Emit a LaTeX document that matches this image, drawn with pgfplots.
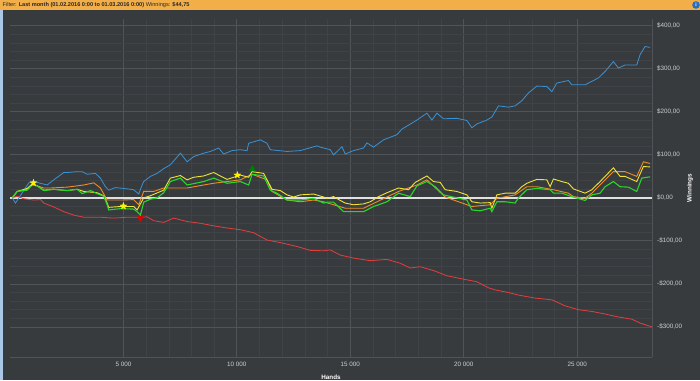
\documentclass[border=0pt]{standalone}
\usepackage{fontspec}
\setmainfont{Liberation Sans}
\usepackage{pgfplots}
\usepackage{pgfplotstable}
\pgfplotsset{compat=1.18}
\definecolor{bg}{RGB}{56,59,62}
\definecolor{hdr}{RGB}{242,174,72}
\definecolor{hdrtext}{RGB}{40,40,40}
\definecolor{stripe}{RGB}{170,200,230}
\definecolor{infoblue}{RGB}{40,110,190}
\definecolor{gridmajor}{RGB}{80,83,87}
\definecolor{gridminor}{RGB}{63,66,70}
\definecolor{ticktext}{RGB}{205,205,205}
\definecolor{cblue}{RGB}{58,146,214}
\definecolor{cred}{RGB}{226,62,62}
\definecolor{corange}{RGB}{240,140,40}
\definecolor{cyellow}{RGB}{240,228,50}
\definecolor{cgreen}{RGB}{40,215,40}

\pgfdeclareplotmark{fstar}{%
  \pgfpathmoveto{\pgfpoint{0pt}{\pgfplotmarksize}}%
  \pgfpathlineto{\pgfpoint{-0.235\pgfplotmarksize}{0.324\pgfplotmarksize}}%
  \pgfpathlineto{\pgfpoint{-0.951\pgfplotmarksize}{0.309\pgfplotmarksize}}%
  \pgfpathlineto{\pgfpoint{-0.380\pgfplotmarksize}{-0.124\pgfplotmarksize}}%
  \pgfpathlineto{\pgfpoint{-0.588\pgfplotmarksize}{-0.809\pgfplotmarksize}}%
  \pgfpathlineto{\pgfpoint{0pt}{-0.4\pgfplotmarksize}}%
  \pgfpathlineto{\pgfpoint{0.588\pgfplotmarksize}{-0.809\pgfplotmarksize}}%
  \pgfpathlineto{\pgfpoint{0.380\pgfplotmarksize}{-0.124\pgfplotmarksize}}%
  \pgfpathlineto{\pgfpoint{0.951\pgfplotmarksize}{0.309\pgfplotmarksize}}%
  \pgfpathlineto{\pgfpoint{0.235\pgfplotmarksize}{0.324\pgfplotmarksize}}%
  \pgfpathclose
  \pgfusepathqfillstroke}

\pgfplotstableread{
x y
100 0
242 -12
828 35
1048 38
1639 30
1784 36
1929 42
2370 59
2520 59
2960 61
3180 61
3401 55
3766 57
3987 46
4207 26
4352 18
4647 24
5013 22
5453 19
5674 9
5824 30
5894 38
6189 50
6484 57
6775 68
7070 77
7511 104
7806 84
8097 96
8537 104
8832 108
9198 116
9418 102
9788 110
10154 112
10449 110
10520 127
11035 135
11330 127
11475 112
12211 108
12797 110
13532 121
13678 118
14118 112
14264 100
14634 119
14779 102
15145 110
15585 116
15735 128
16026 118
16466 135
16761 141
17056 147
17277 160
17937 181
18378 197
18598 181
18818 197
19109 184
19699 185
20140 180
20360 163
20580 172
21021 181
21241 188
21532 214
21972 211
22267 214
22563 226
22853 244
23223 260
23664 259
23884 247
24104 267
24615 273
24765 263
25351 263
25646 271
25937 279
26232 294
26598 317
26818 302
27113 309
27628 309
27774 333
27994 352
28214 350
}\blue

\pgfplotstableread{
x y
100 0
317 4
608 -2
1048 -5
1344 -4
1489 -12
1929 -21
2370 -32
2810 -40
3251 -45
3987 -45
4572 -47
5163 -45
5748 -45
6043 -44
6334 -53
6775 -57
7216 -47
7806 -55
8392 -59
8978 -65
9568 -70
10154 -74
10740 -81
11330 -98
11916 -104
12651 -113
13237 -122
13823 -123
14118 -121
14559 -133
15145 -140
15880 -146
16617 -143
17202 -152
17642 -163
18083 -160
18669 -169
19259 -181
19990 -189
20580 -195
21091 -209
21387 -214
21972 -220
22413 -226
23149 -233
23884 -237
24470 -251
25056 -260
25646 -264
26232 -270
26818 -277
27408 -282
27774 -291
28289 -300
}\red

\pgfplotstableread{
x y
100 0
317 15
758 20
978 33
1198 28
1489 23
1784 23
2520 25
3251 30
3695 35
3987 23
4282 -5
4868 -5
5453 -4
5674 -16
5894 15
6334 15
6775 23
7806 23
8537 30
8978 34
9568 38
10154 42
10669 55
11330 42
11550 15
12211 -5
12797 -9
13383 -5
13823 -9
14779 -24
15585 -24
17127 15
17937 30
18378 42
19184 2
20360 -20
21166 -16
21461 -1
22267 7
22783 26
23223 26
23955 19
24615 11
24836 3
25351 -1
25646 11
26012 30
26598 61
27113 61
27628 50
27920 84
28214 80
}\orange

\pgfplotstableread{
x y
100 0
317 15
758 22
978 32
1198 28
1489 18
1929 20
2520 17
2960 20
3251 15
3841 12
4132 5
4282 -12
4352 -22
4868 -20
5453 -20
5603 -28
5894 0
6189 5
6775 18
7070 46
7511 52
7806 42
8097 48
8537 51
8978 59
9198 53
9568 43
10154 53
10520 48
10669 61
11180 57
11330 42
11550 20
11916 17
12211 7
12502 2
12797 7
13383 9
13823 2
13973 -1
14264 3
14559 -6
14779 -12
15145 -16
15585 -14
15880 -9
16246 3
16617 12
17127 23
17568 19
17862 36
18378 51
18669 38
18964 36
19184 19
19699 15
20140 7
20360 -9
20726 -12
21166 -11
21241 -24
21461 7
21828 11
22267 11
22563 26
22783 34
23223 43
23664 42
23809 26
23955 44
24325 38
24615 34
24836 21
25351 11
25646 19
26012 38
26232 50
26598 70
26892 50
27113 50
27628 38
27920 73
28214 72
}\yellow

\pgfplotstableread{
x y
100 0
317 15
758 18
978 30
1198 28
1489 17
1929 20
2520 17
2960 20
3180 10
3546 17
3841 10
4132 4
4282 -16
4352 -28
4868 -25
5453 -26
5603 -32
5748 -40
5894 -10
6189 -3
6484 0
6775 12
7070 38
7511 46
7806 30
8537 38
8978 46
9568 34
10154 38
10520 30
10669 55
11180 51
11475 18
11770 11
12211 -5
12797 -5
13383 -1
13823 -12
13973 -10
14264 -10
14704 -32
15145 -32
15585 -32
16026 -20
16617 -9
17127 11
17642 3
17937 28
18378 38
18744 26
19109 7
19699 0
20140 -5
20360 -28
20726 -30
21166 -24
21241 -32
21461 -9
21828 -9
22267 -12
22413 0
22783 19
23223 22
23809 19
23955 11
24325 11
24765 3
25351 -6
25646 7
26012 11
26232 26
26598 38
26892 26
27258 25
27628 15
27848 46
28214 49
}\green

\begin{document}
\begin{tikzpicture}
\useasboundingbox (0pt,0pt) rectangle (700pt,-380pt);
\fill[bg] (0pt,0pt) rectangle (700pt,-380pt);
\fill[hdr] (0pt,0pt) rectangle (700pt,-10pt);
\fill[stripe] (0pt,-10pt) rectangle (2.5pt,-380pt);
\node[anchor=west, font=\fontsize{5.6}{6}\selectfont, text=hdrtext, inner sep=0] at (2.5pt,-5.2pt) {Filter: \textbf{Last month (01.02.2016 0:00 to 01.03.2016 0:00)} Winnings: \textbf{\$44,75}};
\fill[infoblue] (696pt,-5pt) circle (3.8pt);
\node[font=\fontsize{5}{5}\selectfont\bfseries, text=white, inner sep=0] at (696pt,-5pt) {i};
\begin{axis}[
  at={(10pt,-357pt)}, anchor=south west, scale only axis,
  width=642pt, height=338pt,
  xmin=0, xmax=28300, ymin=-370, ymax=416,
  scaled x ticks=false, scaled y ticks=false,
  axis line style={draw=gridmajor, line width=0.6pt},
  axis x line*=bottom, axis y line*=right,
  grid=both,
  major grid style={draw=gridmajor, line width=0.8pt},
  minor grid style={draw=gridminor, line width=0.5pt},
  xtick={5000,10000,15000,20000,25000},
  xticklabels={5 000,10 000,15 000,20 000,25 000},
  minor x tick num=4,
  ytick={-300,-200,-100,0,100,200,300,400},
  yticklabels={{-\$300,00},{-\$200,00},{-\$100,00},{\$0,00},{\$100,00},{\$200,00},{\$300,00},{\$400,00}},
  minor y tick num=4,
  major tick length=0pt, minor tick length=0pt,
  yticklabel pos=right,
  ticklabel style={font=\fontsize{6.3}{7}\selectfont, text=ticktext, inner sep=0},
  yticklabel style={anchor=west, xshift=5pt},
  xticklabel style={anchor=north, yshift=-4.5pt},
  clip=true,
]
\addplot[draw=white!88!black, line width=1.6pt, forget plot] coordinates {(0,0) (28300,0)};
\addplot[cblue, line width=0.8pt] table[x=x,y=y] {\blue};
\addplot[cred, line width=0.8pt] table[x=x,y=y] {\red};
\addplot[corange, line width=0.9pt] table[x=x,y=y] {\orange};
\addplot[cyellow, line width=0.9pt] table[x=x,y=y] {\yellow};
\addplot[cgreen, line width=1.1pt] table[x=x,y=y] {\green};
\addplot[only marks, mark=fstar, mark size=3.6pt, draw=yellow, fill=yellow, line width=0.3pt] coordinates {(1035,35) (5000,-19) (10022,53)};
\addplot[only marks, mark=triangle*, mark size=3.5pt, draw=green!50!black, fill=green!50!black] coordinates {(10682,67)};
\addplot[only marks, mark=triangle*, mark size=3.5pt, mark options={rotate=180}, draw=red!90!black, fill=red!90!black] coordinates {(5748,-47)};
\end{axis}
\node[font=\fontsize{6.3}{7}\selectfont\bfseries, text=white, inner sep=0] at (331pt,-377pt) {Hands};
\node[font=\fontsize{6.3}{7}\selectfont\bfseries, text=white, inner sep=0, rotate=90] at (690pt,-188pt) {Winnings};
\end{tikzpicture}
\end{document}
